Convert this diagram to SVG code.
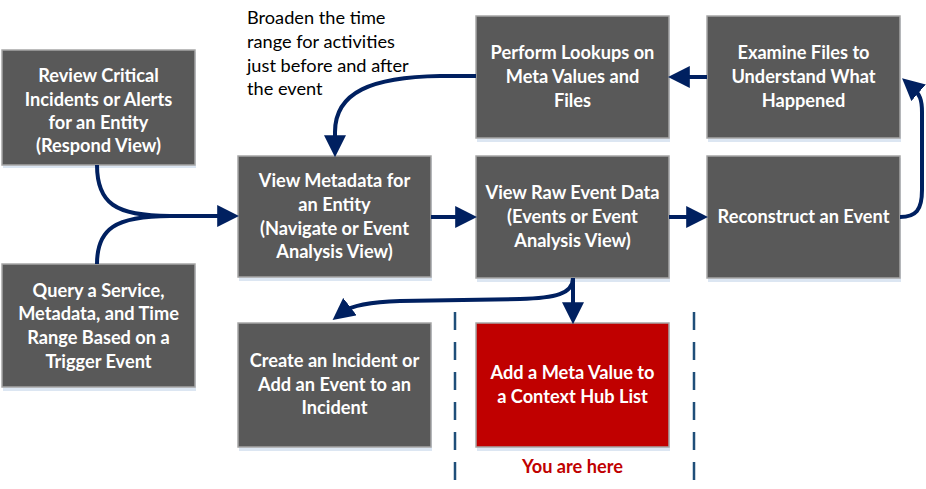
<svg xmlns="http://www.w3.org/2000/svg" width="926" height="489" viewBox="0 0 926 489">
<style>
.box{fill:#595959;stroke:#A6A6A6;stroke-width:1.5}
.sh{fill:#DCE6F2}
.red{fill:#C00000;stroke:#A6A6A6;stroke-width:1.5}
.t{font-family:Lato,"Open Sans",sans-serif;font-weight:bold;font-size:18.2px;fill:#FFFFFF;text-anchor:middle}
.note{font-family:Lato,"Open Sans",sans-serif;font-size:18.2px;fill:#000000}
.here{font-family:Lato,"Open Sans",sans-serif;font-weight:bold;font-size:18.2px;fill:#C00000;text-anchor:middle}
.c{fill:none;stroke:#002060;stroke-width:4}
.dash{fill:none;stroke:#1F4E79;stroke-width:2.5;stroke-dasharray:18 12}
</style>
<defs>
<marker id="ah" markerUnits="userSpaceOnUse" markerWidth="22" markerHeight="22" viewBox="0 0 20 20" refX="8" refY="10" orient="auto">
<path d="M0,0 L20,10 L0,20 z" fill="#002060"/>
</marker>
</defs>

<g id="review">
<rect class="sh" x="3" y="52" width="193" height="116"/>
<rect class="box" x="2" y="50" width="193" height="115"/>
<text class="t" x="98.5" y="82">Review Critical</text>
<text class="t" x="98.5" y="106">Incidents or Alerts</text>
<text class="t" x="98.5" y="129">for an Entity</text>
<text class="t" x="98.5" y="152">(Respond View)</text>
</g>

<g id="query">
<rect class="sh" x="3" y="266" width="193" height="125"/>
<rect class="box" x="2" y="264" width="193" height="123"/>
<text class="t" x="98.5" y="297">Query a Service,</text>
<text class="t" x="98.5" y="320">Metadata, and Time</text>
<text class="t" x="98.5" y="344">Range Based on a</text>
<text class="t" x="98.5" y="368">Trigger Event</text>
</g>

<g id="metadata">
<rect class="sh" x="239" y="158" width="193" height="123"/>
<rect class="box" x="238" y="156" width="193" height="121"/>
<text class="t" x="334.5" y="187">View Metadata for</text>
<text class="t" x="334.5" y="211">an Entity</text>
<text class="t" x="334.5" y="235">(Navigate or Event</text>
<text class="t" x="334.5" y="258">Analysis View)</text>
</g>

<g id="lookups">
<rect class="sh" x="477" y="18" width="193" height="124"/>
<rect class="box" x="476" y="16" width="193" height="122"/>
<text class="t" x="572.5" y="59">Perform Lookups on</text>
<text class="t" x="572.5" y="83">Meta Values and</text>
<text class="t" x="572.5" y="107">Files</text>
</g>

<g id="examine">
<rect class="sh" x="708" y="18" width="193" height="124"/>
<rect class="box" x="707" y="16" width="193" height="122"/>
<text class="t" x="803.5" y="59">Examine Files to</text>
<text class="t" x="803.5" y="83">Understand What</text>
<text class="t" x="803.5" y="107">Happened</text>
</g>

<g id="raw">
<rect class="sh" x="477" y="158" width="193" height="124"/>
<rect class="box" x="476" y="156" width="193" height="122"/>
<text class="t" x="572.5" y="199">View Raw Event Data</text>
<text class="t" x="572.5" y="223">(Events or Event</text>
<text class="t" x="572.5" y="247">Analysis View)</text>
</g>

<g id="reconstruct">
<rect class="sh" x="708" y="158" width="193" height="124"/>
<rect class="box" x="707" y="156" width="193" height="122"/>
<text class="t" x="803.5" y="223">Reconstruct an Event</text>
</g>

<g id="create">
<rect class="sh" x="239" y="325" width="193" height="126"/>
<rect class="box" x="238" y="323" width="193" height="124"/>
<text class="t" x="334.5" y="367">Create an Incident or</text>
<text class="t" x="334.5" y="391">Add an Event to an</text>
<text class="t" x="334.5" y="414">Incident</text>
</g>

<g id="addmeta">
<rect class="sh" x="477" y="325" width="193" height="126"/>
<rect class="red" x="476" y="323" width="193" height="124"/>
<text class="t" x="572.5" y="379">Add a Meta Value to</text>
<text class="t" x="572.5" y="403">a Context Hub List</text>
</g>

<g id="labels">
<text class="note" x="247" y="24">Broaden the time</text>
<text class="note" x="247" y="48">range for activities</text>
<text class="note" x="247" y="72">just before and after</text>
<text class="note" x="247" y="95">the event</text>
<text class="here" x="572.5" y="473">You are here</text>
</g>

<g id="connectors">
<path class="c" d="M97,165 C97,203 115,216 170,216 L226,216" marker-end="url(#ah)"/>
<path class="c" d="M97,264 C97,229 115,216 170,216"/>
<path class="c" d="M431,217 L464,217" marker-end="url(#ah)"/>
<path class="c" d="M669,217 L695,217" marker-end="url(#ah)"/>
<path class="c" d="M900,217 C916,217 922,210 922,190 L922,112 C922,100 920,94 912,87" marker-end="url(#ah)"/>
<path class="c" d="M707,77 L681,77" marker-end="url(#ah)"/>
<path class="c" d="M476,76 L440,76 C372,77 335,92 335,132 L335,144" marker-end="url(#ah)"/>
<path class="c" d="M573,278 C573,294 555,298 520,299 L400,301 C370,302 352,305 343,312" marker-end="url(#ah)"/>
<path class="c" d="M573,278 L573,311" marker-end="url(#ah)"/>
<line class="dash" x1="455" y1="312" x2="455" y2="480"/>
<line class="dash" x1="694" y1="312" x2="694" y2="480"/>
</g>
</svg>
